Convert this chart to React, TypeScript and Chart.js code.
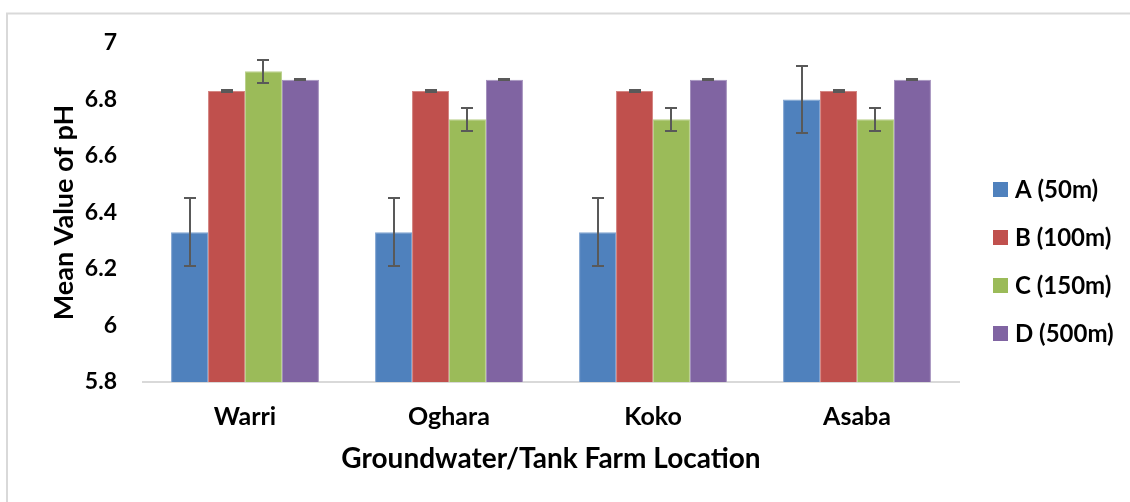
import React, { useEffect, useRef } from "react";
import { Chart, registerables } from "chart.js";

Chart.register(...registerables);

const categories = ["Warri", "Oghara", "Koko", "Asaba"];
const seriesLabels = ["A (50m)", "B (100m)", "C (150m)", "D (500m)"];
const seriesA = [6.33, 6.33, 6.33, 6.8];
const seriesB = [6.83, 6.83, 6.83, 6.83];
const seriesC = [6.9, 6.73, 6.73, 6.73];
const seriesD = [6.87, 6.87, 6.87, 6.87];
const errorA = [0.12, 0.12, 0.12, 0.12];
const errorB = [0.002, 0.002, 0.002, 0.002];
const errorC = [0.04, 0.04, 0.04, 0.04];
const errorD = [0.002, 0.002, 0.002, 0.002];
const yTicks = [5.8, 6, 6.2, 6.4, 6.6, 6.8, 7];

const colors = ["#4F81BD", "#C0504D", "#9BBB59", "#8064A2"];
const borders = ["#7FA3D0", "#D48683", "#BAD08C", "#A491BD"];
const FONT = "Lato, 'Open Sans', sans-serif";

const errorBarPlugin = {
  id: "errorBars",
  afterDatasetsDraw(chart: any) {
    const ctx = chart.ctx;
    const yScale = chart.scales.y;
    ctx.save();
    ctx.strokeStyle = "#595959";
    ctx.lineWidth = 2;
    chart.data.datasets.forEach((ds: any, i: number) => {
      const meta = chart.getDatasetMeta(i);
      meta.data.forEach((bar: any, j: number) => {
        const v = ds.data[j];
        const e = ds.errors[j];
        const yt = Math.round(yScale.getPixelForValue(v + e));
        const yb = Math.round(yScale.getPixelForValue(v - e));
        const x = Math.round(bar.x);
        ctx.beginPath();
        ctx.moveTo(x, yt);
        ctx.lineTo(x, yb);
        ctx.moveTo(x - 6, yt);
        ctx.lineTo(x + 6, yt);
        ctx.moveTo(x - 6, yb);
        ctx.lineTo(x + 6, yb);
        ctx.stroke();
      });
    });
    ctx.restore();
  },
};

const framePlugin = {
  id: "frame",
  beforeDraw(chart: any) {
    const ctx = chart.ctx;
    ctx.save();
    ctx.fillStyle = "#ffffff";
    ctx.fillRect(0, 0, chart.width, chart.height);
    ctx.strokeStyle = "#d9d9d9";
    ctx.lineWidth = 2;
    ctx.beginPath();
    ctx.moveTo(7, chart.height + 10);
    ctx.lineTo(7, 13.5);
    ctx.lineTo(chart.width + 10, 13.5);
    ctx.stroke();
    ctx.restore();
  },
};

const legendPlugin = {
  id: "customLegend",
  afterDraw(chart: any) {
    const ctx = chart.ctx;
    ctx.save();
    ctx.font = `bold 24px ${FONT}`;
    ctx.textBaseline = "middle";
    ctx.textAlign = "left";
    chart.data.datasets.forEach((ds: any, i: number) => {
      const cy = 189 + i * 48;
      ctx.fillStyle = ds.backgroundColor;
      ctx.fillRect(993, cy - 7, 15, 15);
      ctx.fillStyle = "#000000";
      ctx.fillText(ds.label, 1015, cy + 1);
    });
    ctx.restore();
  },
};

export default function App() {
  const ref = useRef<HTMLCanvasElement | null>(null);

  useEffect(() => {
    if (!ref.current) return;
    const series = [seriesA, seriesB, seriesC, seriesD];
    const errors = [errorA, errorB, errorC, errorD];
    const chart = new Chart(ref.current, {
      type: "bar",
      data: {
        labels: categories,
        datasets: series.map((d, i) => ({
          label: seriesLabels[i],
          data: d,
          errors: errors[i],
          backgroundColor: colors[i],
          borderColor: borders[i],
          borderWidth: 1,
          categoryPercentage: 0.725,
          barPercentage: 1,
        })) as any,
      },
      options: {
        responsive: false,
        animation: false,
        devicePixelRatio: 1,
        layout: { padding: { top: 43, right: 171, left: 0, bottom: 0 } },
        plugins: {
          legend: { display: false },
          tooltip: { enabled: false },
        },
        scales: {
          x: {
            grid: { display: false, drawTicks: false },
            border: { display: true, color: "#d9d9d9", width: 2 },
            ticks: {
              color: "#000000",
              font: { family: FONT, size: 25, weight: "bold" },
              padding: 20,
            },
            title: {
              display: true,
              text: "Groundwater/Tank Farm Location",
              color: "#000000",
              font: { family: FONT, size: 28, weight: "bold" },
              padding: { top: 0, bottom: 26 },
            },
            afterFit(scale: any) {
              scale.height = 120;
            },
          },
          y: {
            min: 5.8,
            max: 7,
            afterBuildTicks(scale: any) {
              scale.ticks = yTicks.map((v) => ({ value: v }));
            },
            grid: { display: false, drawTicks: false },
            border: { display: false },
            ticks: {
              color: "#000000",
              font: { family: FONT, size: 23, weight: "bold" },
              padding: 26,
              callback: (v: any) => String(Number(Number(v).toFixed(1))),
            },
            title: {
              display: true,
              text: "Mean Value of pH",
              color: "#000000",
              font: { family: FONT, size: 27, weight: "bold" },
              padding: { top: 48, bottom: 0 },
            },
            afterFit(scale: any) {
              scale.width = 143;
            },
          },
        },
      } as any,
      plugins: [framePlugin, errorBarPlugin, legendPlugin],
    });
    return () => chart.destroy();
  }, []);

  return (
    <div style={{ position: "fixed", left: 0, top: 0, width: 1130, height: 502, overflow: "hidden", background: "#fff" }}>
      <canvas ref={ref} width={1130} height={502} style={{ display: "block", width: 1130, height: 502 }} />
    </div>
  );
}
